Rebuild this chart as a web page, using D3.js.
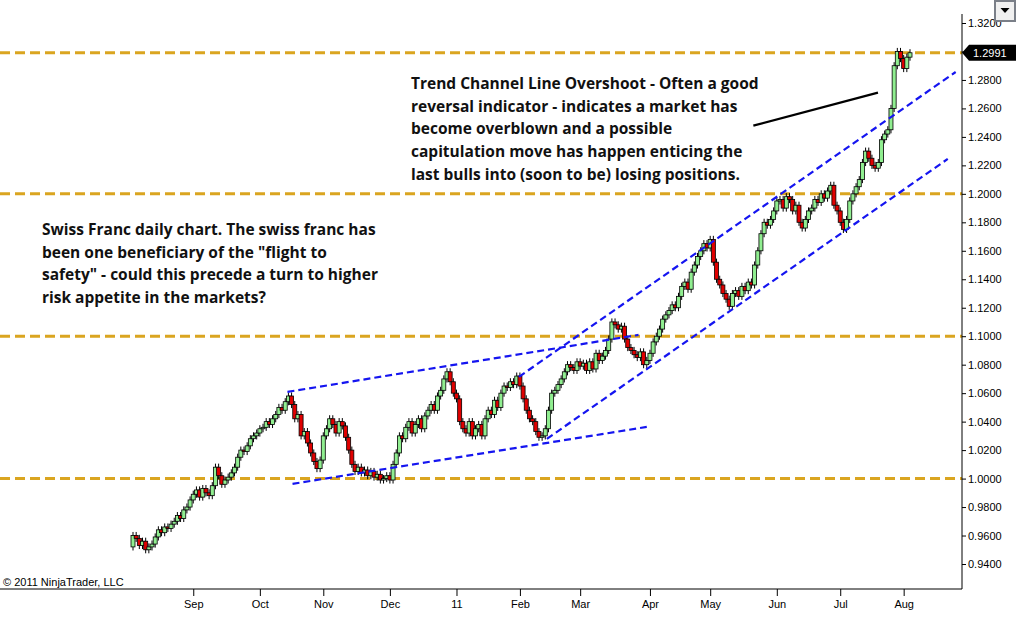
<!DOCTYPE html>
<html>
<head>
<meta charset="utf-8">
<script src="https://cdn.jsdelivr.net/npm/d3@7"></script>
<style>
  body { margin: 0; background: #fff; }
  svg { display: block; font-family: "Liberation Sans", Arial, sans-serif; }
  .note { font-family: "Open Sans", sans-serif; font-weight: bold; font-size: 15.5px; fill: #111; }
</style>
</head>
<body>
<svg id="chart" width="1034" height="632"></svg>
<script>
// daily closes, USD/CHF-style quote in pips (price * 10000)
const closes = [
  9600, 9580, 9530, 9560, 9500, 9520,
  9540, 9590, 9640, 9620, 9660, 9650, 9680,
  9700, 9740, 9720, 9780, 9800, 9850,
  9890, 9920, 9870, 9930, 9900, 9880, 9950,
  10080, 10020, 9960, 9990, 10010, 10040, 10080,
  10150, 10200, 10190, 10230, 10280, 10300, 10320, 10350,
  10360, 10400, 10380, 10420, 10450, 10500, 10480,
  10540, 10580, 10520,
  10420, 10450, 10300, 10330, 10250, 10180, 10120,
  10070, 10130, 10300, 10350, 10420,
  10380, 10320, 10400, 10370, 10290, 10200,
  10100, 10050, 10080, 10040, 10060, 10020, 10050,
  10010, 10030, 9990, 10000, 10020, 9990,
  10100, 10180, 10300, 10280, 10360, 10400, 10320,
  10380, 10420, 10350, 10440, 10480, 10520, 10480,
  10580, 10620, 10700, 10750, 10680, 10600, 10560,
  10400, 10350, 10320, 10400, 10300, 10350,
  10380, 10300, 10420, 10480, 10450, 10550, 10500,
  10600, 10650, 10640, 10680, 10660, 10720,
  10650, 10560, 10480, 10420, 10400, 10330,
  10290, 10300, 10350, 10480, 10600, 10620, 10660,
  10700, 10750, 10800, 10780, 10760, 10820, 10790,
  10810, 10760, 10820, 10770, 10880, 10830, 10860,
  10900, 10980, 11100, 11080, 11050, 11070, 10980,
  10920, 10900, 10870, 10850, 10890, 10800, 10830,
  10880, 10960, 11000, 11050, 11120, 11150,
  11180, 11220, 11200, 11280, 11350, 11380, 11330,
  11450, 11500, 11560, 11600, 11650, 11620, 11680,
  11520, 11400, 11360, 11300, 11260, 11210,
  11300, 11320, 11280, 11350, 11320, 11380, 11360,
  11500, 11600, 11720, 11800, 11780, 11820, 11880,
  11950, 11960, 11900, 11980, 11960, 11880, 11920,
  11800, 11760, 11820, 11880, 11900, 11960, 11940,
  12000, 11970, 12020, 12060, 11920, 11880,
  11800, 11750, 11820, 11950, 12000, 12050, 12100,
  12220, 12300, 12250, 12200, 12180, 12220,
  12380, 12420, 12450, 12600,
  12900, 13000, 12950, 12880, 12960, 12991
];
const firstOpen = 9520;
const wick = 25; // pips of shadow beyond the body

const monthLabels = ["Sep", "Oct", "Nov", "Dec", "11", "Feb", "Mar", "Apr", "May", "Jun", "Jul", "Aug"];
const monthIndex  = [19, 40, 60, 81, 102, 122, 141, 163, 182, 203, 223, 243];

const priceTicks = d3.range(0.94, 1.3201, 0.02);
const levels = [1.0, 1.1, 1.2, 1.2991];
const lastPrice = 1.2991;

// trend lines as [index, price] pairs
const trendLines = [
  [[48.7, 1.0609], [159.4, 1.1009]],
  [[50.3, 0.9963], [162.0, 1.0363]],
  [[121.7, 1.0715], [259.4, 1.2856]],
  [[130.5, 1.0279], [256.9, 1.2245]]
];
const arrowLine = [[195.6, 1.2479], [234.9, 1.2711]];

const noteRight = [
  "Trend Channel Line Overshoot - Often a good",
  "reversal indicator - indicates a market has",
  "become overblown and a possible",
  "capitulation move has happen enticing the",
  "last bulls into (soon to be) losing positions."
];
const noteLeft = [
  "Swiss Franc daily chart. The swiss franc has",
  "been one beneficiary of the \"flight to",
  "safety\" - could this precede a turn to higher",
  "risk appetite in the markets?"
];

const svg = d3.select("#chart");
const plotRight = 962, plotBottom = 589;

const x = d3.scaleLinear().domain([0, closes.length - 1]).range([133, 910]);
const y = d3.scaleLinear().domain([0.94, 1.32]).range([564, 23]);

const candles = closes.map((c, i) => {
  const o = i === 0 ? firstOpen : closes[i - 1];
  return { i, o: o / 1e4, c: c / 1e4, h: (Math.max(o, c) + wick) / 1e4, l: (Math.min(o, c) - wick) / 1e4 };
});

// horizontal gold levels
svg.append("g").selectAll("line").data(levels).join("line")
  .attr("x1", 0).attr("x2", plotRight)
  .attr("y1", d => y(d)).attr("y2", d => y(d))
  .attr("stroke", "#DAA520").attr("stroke-width", 3).attr("stroke-dasharray", "10,5");

// candles
const cg = svg.append("g");
cg.selectAll("line").data(candles).join("line")
  .attr("x1", d => x(d.i)).attr("x2", d => x(d.i))
  .attr("y1", d => y(d.h)).attr("y2", d => y(d.l))
  .attr("stroke", "#000").attr("stroke-width", 1);
cg.selectAll("rect").data(candles).join("rect")
  .attr("x", d => x(d.i) - 2).attr("width", 4)
  .attr("y", d => y(Math.max(d.o, d.c)))
  .attr("height", d => Math.max(1, Math.abs(y(d.o) - y(d.c))))
  .attr("fill", d => d.c >= d.o ? "#90EE90" : "#E00000")
  .attr("stroke", "#000").attr("stroke-width", 0.8);

// trend lines
const line = d3.line().x(d => x(d[0])).y(d => y(d[1]));
svg.append("g").selectAll("path").data(trendLines).join("path")
  .attr("d", line).attr("fill", "none")
  .attr("stroke", "#1515F0").attr("stroke-width", 2.2).attr("stroke-dasharray", "7,4");
svg.append("path").attr("d", line(arrowLine))
  .attr("stroke", "#000").attr("stroke-width", 2.2).attr("fill", "none");

// axes
svg.append("line").attr("x1", 0).attr("x2", plotRight).attr("y1", plotBottom).attr("y2", plotBottom).attr("stroke", "#000");
svg.append("line").attr("x1", plotRight).attr("x2", plotRight).attr("y1", 14).attr("y2", plotBottom).attr("stroke", "#000");

// the 1.3000 label sits under the last-price marker, so it is not written
const ya = svg.append("g").attr("transform", `translate(${plotRight},0)`)
  .call(d3.axisRight(y).tickValues(priceTicks)
    .tickFormat(d => Math.abs(d - 1.30) < 1e-6 ? "" : d3.format(".4f")(d))
    .tickSize(4).tickPadding(2));
ya.select(".domain").remove();
ya.selectAll("text").attr("font-size", 11).attr("fill", "#000").attr("font-family", "Liberation Sans, Arial");

const xa = svg.append("g").attr("transform", `translate(0,${plotBottom})`)
  .call(d3.axisBottom(x).tickValues(monthIndex).tickFormat((d, k) => monthLabels[k]).tickSize(7).tickPadding(4));
xa.select(".domain").remove();
xa.selectAll("text").attr("font-size", 11).attr("fill", "#000").attr("font-family", "Liberation Sans, Arial");

// last price marker
const lp = svg.append("g").attr("transform", `translate(${plotRight},${y(lastPrice)})`);
lp.append("path").attr("d", "M0,0 L7,-8 H54 V8 H7 Z").attr("fill", "#000");
lp.append("text").attr("x", 11).attr("y", 4).attr("fill", "#fff").attr("font-size", 11).text(lastPrice.toFixed(4));

// dropdown button
svg.append("rect").attr("x", 995).attr("y", 1).attr("width", 20).attr("height", 20)
  .attr("fill", "#f0f0f0").attr("stroke", "#7a7f88").attr("stroke-width", 2);
svg.append("path").attr("d", "M1000.5,8 H1009.5 L1005,13 Z").attr("fill", "#000");

// notes
svg.append("text").attr("class", "note").selectAll("tspan").data(noteRight).join("tspan")
  .attr("x", 411).attr("y", (d, k) => 89 + k * 22.7).text(d => d);
svg.append("text").attr("class", "note").selectAll("tspan").data(noteLeft).join("tspan")
  .attr("x", 42).attr("y", (d, k) => 235 + k * 22.5).text(d => d);

svg.append("text").attr("x", 3).attr("y", 586).attr("font-size", 11).attr("fill", "#000")
  .text("\u00A9 2011 NinjaTrader, LLC");
</script>
</body>
</html>
